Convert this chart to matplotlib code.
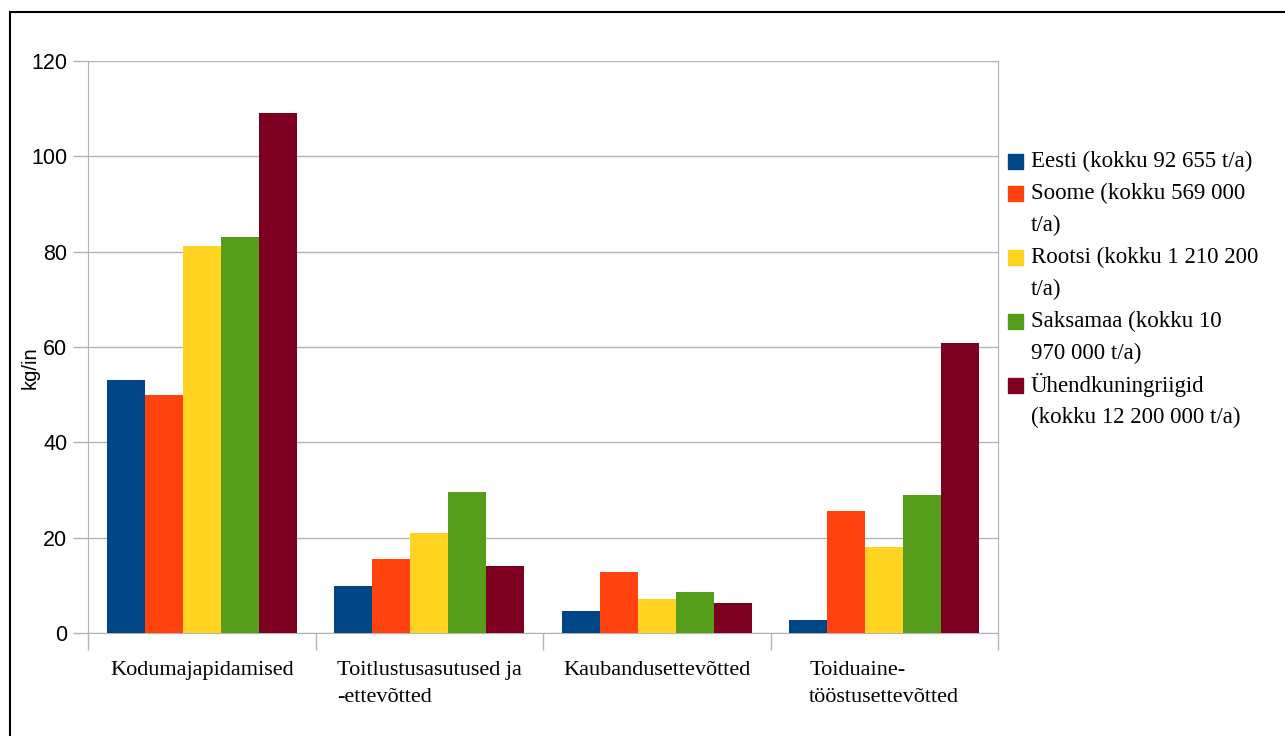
import matplotlib.pyplot as plt
from matplotlib.lines import Line2D
from matplotlib.patches import Rectangle
import numpy as np

# food waste per inhabitant, kg/in
categories = ['Kodumajapidamised', 'Toitlustusasutused ja\n-ettevõtted',
              'Kaubandusettevõtted', 'Toiduaine-\ntööstusettevõtted']
eesti = [53, 9.9, 4.6, 2.7]
soome = [50, 15.5, 12.8, 25.6]
rootsi = [81.2, 21, 7.1, 18]
saksamaa = [83, 29.5, 8.6, 29]
uk = [109, 14, 6.3, 60.8]

series_names = ['Eesti (kokku 92 655 t/a)',
                'Soome (kokku 569 000\nt/a)',
                'Rootsi (kokku 1 210 200\nt/a)',
                'Saksamaa (kokku 10\n970 000 t/a)',
                'Ühendkuningriigid\n(kokku 12 200 000 t/a)']
colors = ['#004586', '#ff420e', '#ffd320', '#579d1c', '#7e0021']
yticks = [0, 20, 40, 60, 80, 100, 120]

W, H = 1285, 736
fig = plt.figure(figsize=(W / 100, H / 100), dpi=100)
ax = fig.add_axes([88 / W, 1 - 633 / H, (998 - 88) / W, (633 - 61) / H])

grid_col = '#b3b3b3'
x = np.arange(len(categories))
bw = 0.167
data = [eesti, soome, rootsi, saksamaa, uk]
for i, vals in enumerate(data):
    ax.bar(x + (i - 2) * bw, vals, bw, color=colors[i], zorder=3)

ax.set_xlim(-0.5, 3.5)
ax.set_ylim(0, 120)
ax.set_yticks(yticks)
ax.yaxis.grid(True, color=grid_col, linewidth=1)
ax.set_axisbelow(True)
for side in ['left', 'right', 'bottom']:
    ax.spines[side].set_color(grid_col)
ax.spines['top'].set_visible(False)

ax.tick_params(axis='y', colors=grid_col, length=11, width=1, pad=4,
               labelcolor='black', labelsize=15.5)
for lab in ax.get_yticklabels():
    lab.set_fontfamily('Liberation Sans')

# category labels in the middle, tick marks on the boundaries
ax.set_xticks(x)
ax.set_xticklabels(categories, family='Liberation Serif', fontsize=16,
                   multialignment='left', linespacing=1.6)
ax.tick_params(axis='x', length=0, pad=20)
ax.set_xticks(np.arange(-0.5, 4, 1), minor=True)
ax.tick_params(axis='x', which='minor', length=12, width=1, colors=grid_col)

fig.text(30 / W, 1 - 368 / H, 'kg/in', rotation=90, ha='center', va='center',
         family='Liberation Sans', fontsize=14.5)

# legend drawn line by line
line_y = 161
for name, c in zip(series_names, colors):
    fig.patches.append(Rectangle((1008 / W, 1 - (line_y + 8) / H), 15 / W, 15 / H,
                                 transform=fig.transFigure, color=c))
    for part in name.split('\n'):
        fig.text(1031 / W, 1 - line_y / H, part, ha='left', va='center',
                 family='Liberation Serif', fontsize=16.5)
        line_y += 32

# outer frame
fig.lines.append(Line2D([10 / W, 10 / W], [0, 1 - 12 / H], color='black',
                        linewidth=1.5, transform=fig.transFigure))
fig.lines.append(Line2D([10 / W, 1], [1 - 12 / H, 1 - 12 / H], color='black',
                        linewidth=1.5, transform=fig.transFigure))

fig.savefig('out.png', dpi=100)
